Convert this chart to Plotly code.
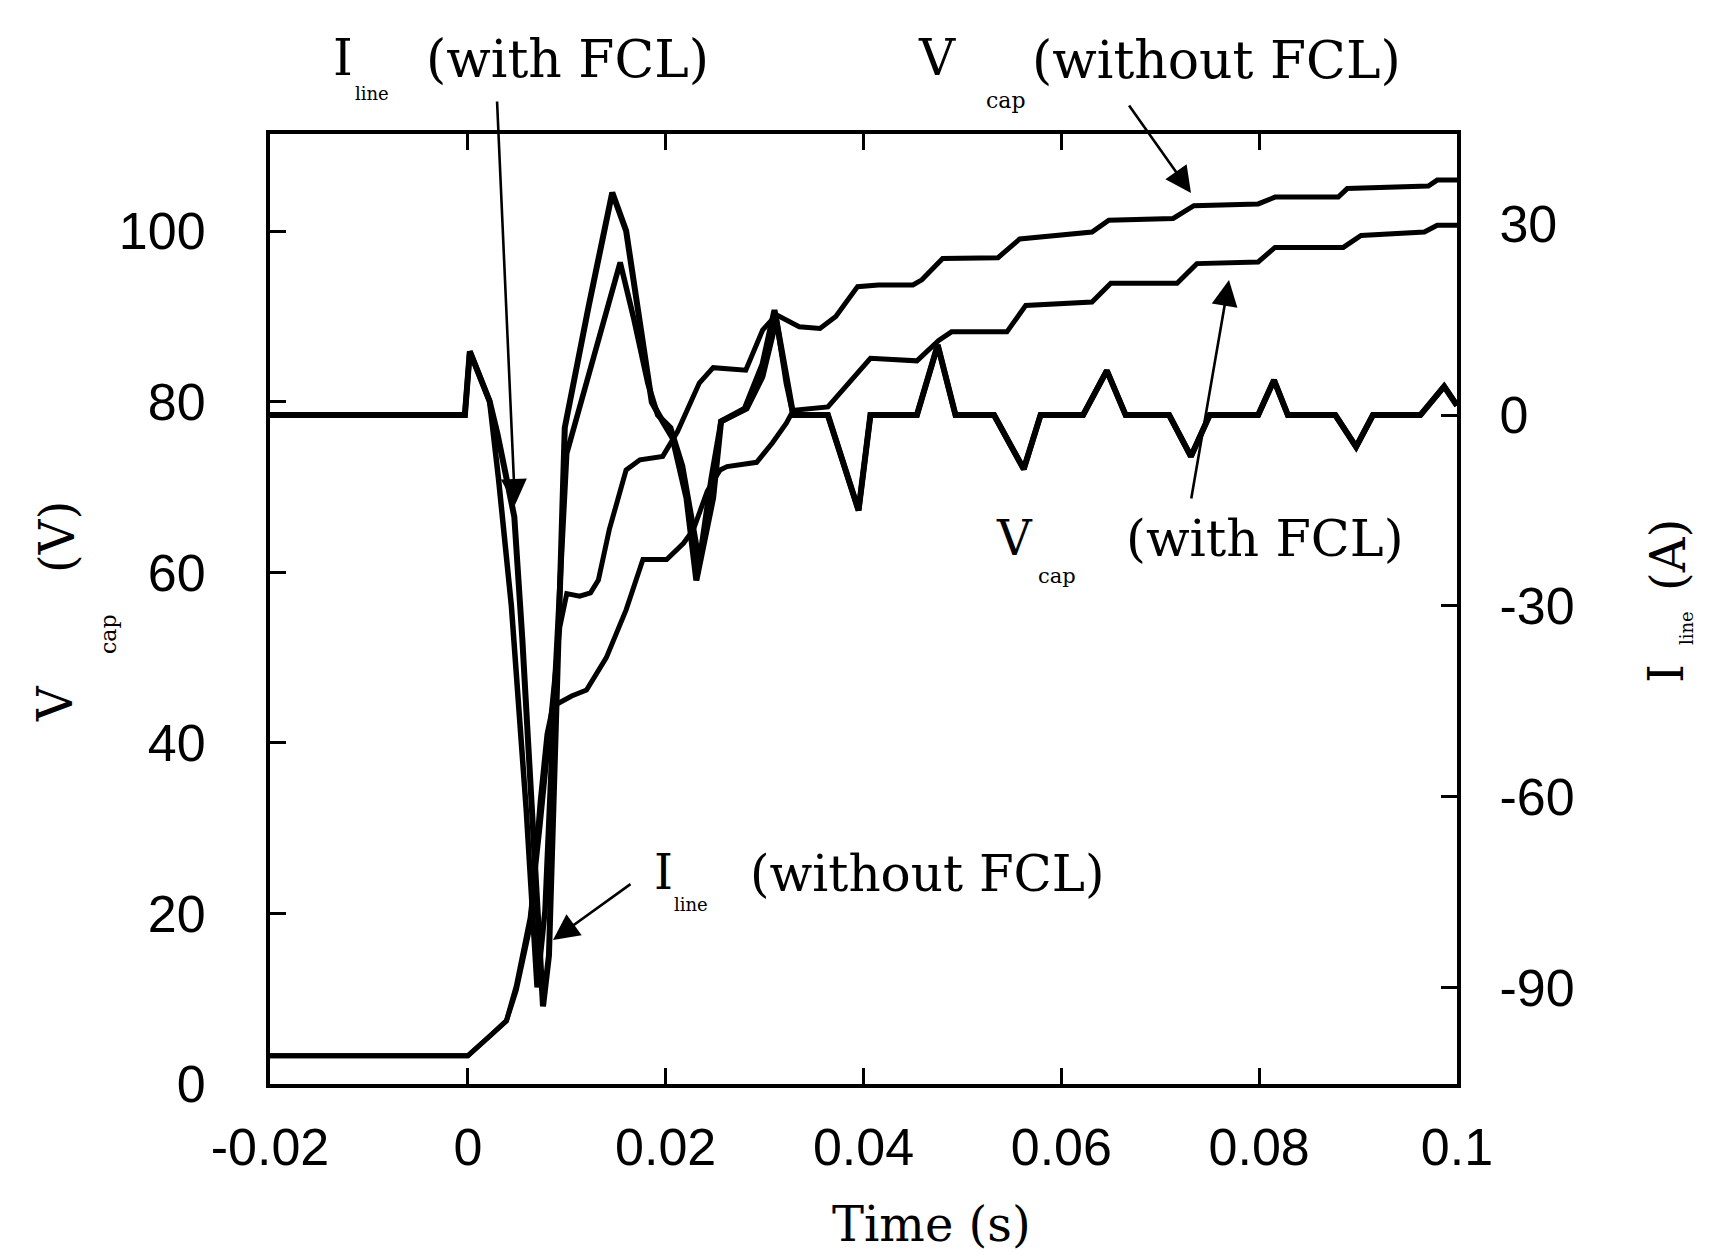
import plotly.graph_objects as go

# ---------------- data ----------------
# Capacitor voltage without FCL (left axis, V)
t_vcap_nofcl = [-0.02, 0.0, 0.0022, 0.0039, 0.0049, 0.0056, 0.0063, 0.0073, 0.0086, 0.0093,
                0.0100, 0.0113, 0.0124, 0.0132, 0.0143, 0.0160, 0.0174, 0.0197, 0.0212, 0.0234,
                0.0248, 0.0281, 0.0298, 0.0312, 0.0335, 0.0356, 0.0372, 0.0394, 0.0415, 0.0450,
                0.0459, 0.0480, 0.0536, 0.0558, 0.0631, 0.0648, 0.0713, 0.0734, 0.0799, 0.0816,
                0.0880, 0.0889, 0.0971, 0.0980, 0.1]
vcap_nofcl = [3.3, 3.3, 5.6, 7.4, 11.5, 15.4, 19.5, 30.2, 46.0, 53.6,
              57.5, 57.2, 57.6, 59.1, 65.0, 72.0, 73.2, 73.6, 76.5, 82.2,
              84.0, 83.7, 88.4, 90.2, 88.8, 88.6, 90.0, 93.5, 93.7, 93.7,
              94.3, 96.8, 96.9, 99.1, 99.9, 101.3, 101.5, 103.0, 103.2, 104.0,
              104.0, 105.0, 105.3, 106.0, 106.0]

# Capacitor voltage with FCL (left axis, V)
t_vcap_fcl = [-0.02, 0.0, 0.0022, 0.0039, 0.0049, 0.0056, 0.0063, 0.0073, 0.0080, 0.0086,
              0.0105, 0.0120, 0.0140, 0.0160, 0.0177, 0.0201, 0.0218, 0.0228, 0.0242, 0.0255,
              0.0262, 0.0292, 0.0308, 0.0322, 0.0329, 0.0364, 0.0407, 0.0454, 0.0476, 0.0489,
              0.0545, 0.0564, 0.0631, 0.0650, 0.0717, 0.0737, 0.0799, 0.0816, 0.0885, 0.0903,
              0.0967, 0.0980, 0.1]
vcap_fcl = [3.3, 3.3, 5.6, 7.4, 11.0, 14.5, 18.5, 33.0, 41.0, 44.3,
            45.5, 46.2, 50.0, 55.6, 61.5, 61.5, 63.4, 65.0, 69.5, 72.0,
            72.4, 72.9, 75.2, 77.5, 79.0, 79.4, 85.1, 84.8, 87.2, 88.2,
            88.2, 91.3, 91.7, 93.9, 93.9, 96.2, 96.4, 98.1, 98.1, 99.5,
            99.9, 100.7, 100.7]

# Line current without FCL (right axis, A) - first cycles
t_iline_nofcl = [-0.02, -0.0003, 0.0002, 0.0008, 0.0022, 0.0030, 0.0037, 0.0047, 0.0055, 0.0068,
                 0.0076, 0.0082, 0.0090, 0.0098, 0.0122, 0.0146, 0.0160, 0.0177, 0.0186, 0.0197,
                 0.0207, 0.0221, 0.0231, 0.0248, 0.0256, 0.0280, 0.0298, 0.0310, 0.0322, 0.0329]
iline_nofcl = [0, 0, 10, 7.5, 2.2, -3, -8.4, -16, -35, -72,
               -93, -85, -45, -2, 17, 35, 29, 12, 2, -1,
               -3.6, -13, -26, -13, -1, 1, 8, 16.5, 6, 0]

# Line current with FCL (right axis, A) - first cycles
t_iline_fcl = [-0.02, -0.0003, 0.0002, 0.0008, 0.0022, 0.0031, 0.0044, 0.0059, 0.0065, 0.0070,
               0.0078, 0.0088, 0.0100, 0.0125, 0.0154, 0.0168, 0.0182, 0.0192, 0.0205, 0.0217,
               0.0234, 0.0246, 0.0256, 0.0282, 0.0298, 0.0312, 0.0322, 0.0329]
iline_fcl = [0, 0, 10, 7.5, 2.2, -10, -30, -62, -76, -90,
             -78, -42, -6, 8, 24, 15, 5, 0, -2, -8,
             -23, -10, -1, 1, 6, 15, 5, 0]

# Decaying oscillation common to both current traces (right axis, A)
t_iline_tail = [0.0329, 0.0364, 0.0395, 0.0407, 0.0454, 0.0475, 0.0493, 0.0532, 0.0562, 0.0579,
                0.0622, 0.0646, 0.0665, 0.0709, 0.0731, 0.0750, 0.0799, 0.0815, 0.0829, 0.0877,
                0.0898, 0.0915, 0.0963, 0.0987, 0.1]
iline_tail = [0, 0, -15, 0, 0, 11, 0, 0, -8.5, 0,
              0, 7, 0, 0, -6.5, 0, 0, 5.5, 0, 0,
              -5, 0, 0, 4.5, 1.5]

x_ticks = [-0.02, 0, 0.02, 0.04, 0.06, 0.08, 0.1]
x_tick_labels = ["-0.02", "0", "0.02", "0.04", "0.06", "0.08", "0.1"]
v_ticks = [0, 20, 40, 60, 80, 100]
v_tick_labels = ["0", "20", "40", "60", "80", "100"]
i_ticks = [-90, -60, -30, 0, 30]
i_tick_labels = ["-90", "-60", "-30", "0", "30"]

# ---------------- figure ----------------
W, H = 1709, 1257
OFF = 8                      # default page margin of the html body
PLOT_L, PLOT_R, PLOT_T, PLOT_B = 270, 1457, 134, 1084   # plot frame in page pixels
PW, PH = PLOT_R - PLOT_L, PLOT_B - PLOT_T

SANS = "Liberation Sans"
SERIF = "DejaVu Serif"

fig = go.Figure()
fig.add_trace(go.Scatter(x=t_vcap_nofcl, y=vcap_nofcl, mode="lines",
                         line=dict(color="black", width=5), yaxis="y"))
fig.add_trace(go.Scatter(x=t_vcap_fcl, y=vcap_fcl, mode="lines",
                         line=dict(color="black", width=5), yaxis="y"))
fig.add_trace(go.Scatter(x=t_iline_nofcl + t_iline_tail[1:], y=iline_nofcl + iline_tail[1:],
                         mode="lines", line=dict(color="black", width=6), yaxis="y2"))
fig.add_trace(go.Scatter(x=t_iline_fcl + t_iline_tail[1:], y=iline_fcl + iline_tail[1:],
                         mode="lines", line=dict(color="black", width=5.5), yaxis="y2"))


def px(X):
    return (X - PLOT_L) / PW


def py(Y):
    return (PLOT_B - Y) / PH


annotations = []


def text(X, Y, s, size, xanchor="left", angle=0, family=SERIF):
    annotations.append(dict(x=px(X), y=py(Y), xref="paper", yref="paper", text=s,
                            showarrow=False, xanchor=xanchor, yanchor="middle",
                            textangle=angle, font=dict(family=family, size=size, color="black")))


def arrow(tipX, tipY, tailX, tailY):
    annotations.append(dict(x=px(tipX), y=py(tipY), xref="paper", yref="paper", text="",
                            showarrow=True, ax=tailX - tipX, ay=tailY - tipY,
                            arrowhead=2, arrowsize=2.0, arrowwidth=2.6, arrowcolor="black",
                            standoff=0, startstandoff=0))


# I_line (with FCL)
text(331, 58, "I", 50)
text(353, 93, "line", 18)
text(424, 59, "(with FCL)", 52)
# V_cap (without FCL)
text(916, 58, "V", 50)
text(984, 101, "cap", 22)
text(1030, 60, "(without FCL)", 52)
# V_cap (with FCL)
text(994, 538, "V", 48)
text(1036, 576, "cap", 21)
text(1124, 538, "(with FCL)", 51)
# I_line (without FCL)
text(652, 872, "I", 48)
text(672, 904, "line", 18)
text(748, 874, "(without FCL)", 50)
# axis titles
text(931, 1224, "Time (s)", 48, xanchor="center")
text(55, 704, "V", 48, xanchor="center", angle=-90)
text(108, 634, "cap", 22, xanchor="center", angle=-90)
text(57, 537, "(V)", 48, xanchor="center", angle=-90)
text(1666, 674, "I", 48, xanchor="center", angle=-90)
text(1686, 628, "line", 18, xanchor="center", angle=-90)
text(1668, 555, "(A)", 48, xanchor="center", angle=-90)

arrow(515, 505, 497, 100)
arrow(1191, 193, 1128, 104)
arrow(1229, 280, 1191, 500)
arrow(553, 940, 632, 883)

axis_common = dict(showgrid=False, zeroline=False, showline=True, linecolor="black",
                   linewidth=4, ticks="inside", ticklen=16, tickwidth=3, tickcolor="black",
                   tickfont=dict(family=SANS, size=52, color="black"))

fig.update_layout(
    width=W - OFF, height=H - OFF,
    margin=dict(l=PLOT_L - OFF, r=W - PLOT_R, t=PLOT_T - OFF, b=H - PLOT_B, pad=0),
    paper_bgcolor="white", plot_bgcolor="white",
    showlegend=False,
    xaxis=dict(range=[-0.02, 0.1], tickvals=x_ticks, ticktext=x_tick_labels,
               mirror="ticks", ticklabelstandoff=15, **axis_common),
    yaxis=dict(range=[0, 111.4], tickvals=v_ticks, ticktext=v_tick_labels,
               mirror=True, ticklabelstandoff=50, **axis_common),
    yaxis2=dict(range=[-105.2, 44.2], tickvals=i_ticks, ticktext=i_tick_labels,
                overlaying="y", side="right", ticklabelstandoff=28, **axis_common),
    annotations=annotations,
)

fig.write_html("out.html")
